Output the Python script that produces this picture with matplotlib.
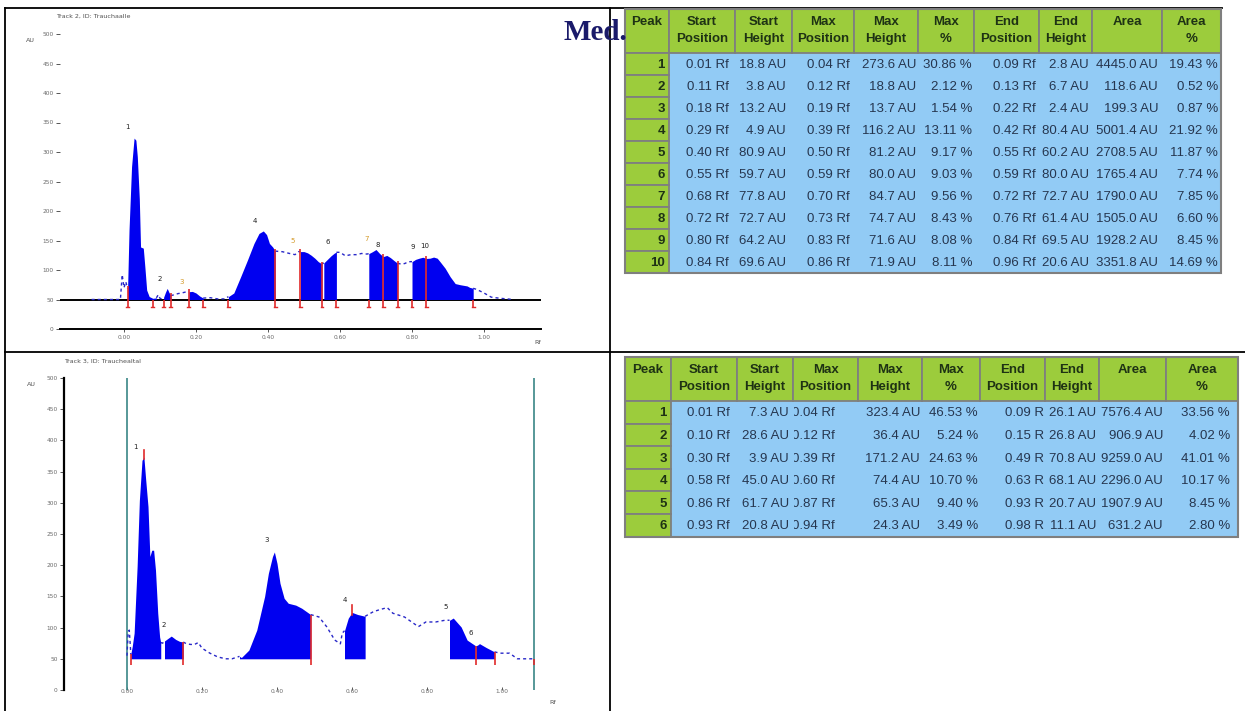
import matplotlib.pyplot as plt
import numpy as np
from matplotlib.patches import Rectangle

W, H = 1245, 711

# ---- top densitogram (track 2), Rf vs AU (baseline at 50 AU)
top_rf = [-0.09, -0.01, -0.005, 0.0, 0.005, 0.01, 0.014, 0.021, 0.028, 0.033, 0.037, 0.0425,
          0.046, 0.0536, 0.058, 0.063, 0.07, 0.08, 0.09, 0.095, 0.10, 0.105, 0.11, 0.115, 0.12,
          0.125, 0.13, 0.14, 0.15, 0.16, 0.17, 0.18, 0.19, 0.20, 0.21, 0.22, 0.24, 0.26, 0.28,
          0.29, 0.305, 0.324, 0.343, 0.361, 0.375, 0.387, 0.396, 0.404, 0.413, 0.42, 0.44, 0.46,
          0.475, 0.485, 0.49, 0.50, 0.51, 0.52, 0.53, 0.54, 0.55, 0.555, 0.565, 0.575, 0.585,
          0.59, 0.60, 0.615, 0.63, 0.645, 0.66, 0.675, 0.68, 0.69, 0.70, 0.71, 0.72, 0.73, 0.74,
          0.75, 0.76, 0.77, 0.78, 0.79, 0.80, 0.81, 0.82, 0.83, 0.84, 0.85, 0.86, 0.87, 0.878,
          0.892, 0.906, 0.92, 0.934, 0.953, 0.96, 0.97, 0.98, 1.0, 1.02, 1.045, 1.065, 1.08]
top_au = [50, 50, 92, 70, 80, 68.8, 168, 275, 323.6, 320, 292, 221,
          139, 137, 105, 66, 55, 52, 52.8, 58, 52, 51, 53.8, 62, 68.8,
          62, 56.7, 58, 60, 61, 62.5, 63.2, 63.7, 61, 56, 52.4, 53, 51, 51,
          54.9, 61, 88.6, 117, 145, 162, 166.2, 160, 145, 139, 132, 131, 128,
          126, 131, 131.2, 131.2, 129, 125, 120, 114, 110.2, 112, 118, 124, 129,
          130, 130, 124, 126, 126, 128, 127, 127.8, 131, 134.7, 128, 122.7, 124.7, 121,
          116, 111.4, 110, 111, 114, 114.2, 118, 120, 121.6, 119.6, 120, 121.9, 120, 114,
          103, 88.6, 77, 75, 73, 70.6, 69, 67, 61, 54, 52, 51, 50]
top_fills = [(0.01, 0.09), (0.11, 0.13), (0.18, 0.22), (0.29, 0.42), (0.49, 0.55), (0.555, 0.59),
             (0.68, 0.72), (0.72, 0.76), (0.80, 0.84), (0.84, 0.97)]
top_red_tall = [0.01, 0.13, 0.18, 0.42, 0.49, 0.55, 0.72, 0.76, 0.84]
top_red_low = [0.08, 0.11, 0.22, 0.29, 0.59, 0.68, 0.80, 0.97]
top_labels = ['1', '2', '3', '4', '5', '6', '7', '8', '9', '10']
top_label_rf = [0.011, 0.10, 0.161, 0.364, 0.469, 0.567, 0.675, 0.705, 0.803, 0.836]
top_label_au = [342, 85, 80, 183, 149, 147, 153, 142, 139, 141]

# ---- bottom densitogram (track 3)
bot_rf = [0.0, 0.003, 0.006, 0.009, 0.01, 0.014, 0.019, 0.027, 0.033, 0.04, 0.045, 0.05, 0.056,
          0.061, 0.066, 0.071, 0.076, 0.082, 0.087, 0.09, 0.095, 0.10, 0.11, 0.118, 0.13, 0.14,
          0.15, 0.159, 0.17, 0.18, 0.19, 0.20, 0.221, 0.242, 0.263, 0.28, 0.30, 0.305, 0.325,
          0.346, 0.367, 0.377, 0.388, 0.393, 0.40, 0.408, 0.419, 0.43, 0.45, 0.466, 0.49, 0.512,
          0.533, 0.554, 0.569, 0.574, 0.58, 0.59, 0.60, 0.615, 0.635, 0.657, 0.675, 0.694, 0.709,
          0.74, 0.777, 0.797, 0.823, 0.85, 0.86, 0.87, 0.891, 0.907, 0.93, 0.935, 0.94, 0.958,
          0.98, 0.995, 1.02, 1.041, 1.085]
bot_au = [55, 92, 96, 70, 57.3, 70, 91, 198, 304, 368, 373.4, 336, 294,
          214, 224, 224, 192, 123, 85, 76.1, 75, 78.6, 83, 86.4, 81, 78,
          76.8, 74, 73, 73, 76, 67, 59, 53, 50, 50, 53.9, 52, 64,
          96, 150, 187, 214, 221.2, 203, 171, 147, 139, 136, 131, 120.8, 117,
          101, 80, 74, 91, 95, 115, 124.4, 121, 118.1, 125.5, 129, 132, 123,
          117, 101.5, 109, 109, 112, 111.7, 115.3, 101, 80, 70.7, 72, 74.3, 68,
          61.1, 59, 59, 50, 50]
bot_fills = [(0.01, 0.09), (0.10, 0.15), (0.30, 0.49), (0.58, 0.635), (0.86, 0.93), (0.93, 0.98)]
bot_red = [0.01, 0.15, 0.49, 0.93, 0.98, 1.085]
bot_max_marks = [0.045, 0.60]
bot_labels = ['1', '2', '3', '4', '5', '6']
bot_label_rf = [0.022, 0.097, 0.372, 0.581, 0.849, 0.917]
bot_label_au = [390, 104, 240, 144, 133, 92]

yticks = [0, 50, 100, 150, 200, 250, 300, 350, 400, 450, 500]
xticks = [0.0, 0.2, 0.4, 0.6, 0.8, 1.0]
xtick_labels = ['0.00', '0.20', '0.40', '0.60', '0.80', '1.00']

# ---- tables
headers = ['Peak', 'Start\nPosition', 'Start\nHeight', 'Max\nPosition', 'Max\nHeight', 'Max\n%',
           'End\nPosition', 'End\nHeight', 'Area', 'Area\n%']

t1_start_pos = [0.01, 0.11, 0.18, 0.29, 0.40, 0.55, 0.68, 0.72, 0.80, 0.84]
t1_start_h = [18.8, 3.8, 13.2, 4.9, 80.9, 59.7, 77.8, 72.7, 64.2, 69.6]
t1_max_pos = [0.04, 0.12, 0.19, 0.39, 0.50, 0.59, 0.70, 0.73, 0.83, 0.86]
t1_max_h = [273.6, 18.8, 13.7, 116.2, 81.2, 80.0, 84.7, 74.7, 71.6, 71.9]
t1_max_pct = [30.86, 2.12, 1.54, 13.11, 9.17, 9.03, 9.56, 8.43, 8.08, 8.11]
t1_end_pos = [0.09, 0.13, 0.22, 0.42, 0.55, 0.59, 0.72, 0.76, 0.84, 0.96]
t1_end_h = [2.8, 6.7, 2.4, 80.4, 60.2, 80.0, 72.7, 61.4, 69.5, 20.6]
t1_area = [4445.0, 118.6, 199.3, 5001.4, 2708.5, 1765.4, 1790.0, 1505.0, 1928.2, 3351.8]
t1_area_pct = [19.43, 0.52, 0.87, 21.92, 11.87, 7.74, 7.85, 6.60, 8.45, 14.69]

t2_start_pos = [0.01, 0.10, 0.30, 0.58, 0.86, 0.93]
t2_start_h = [7.3, 28.6, 3.9, 45.0, 61.7, 20.8]
t2_max_pos = [0.04, 0.12, 0.39, 0.60, 0.87, 0.94]
t2_max_h = [323.4, 36.4, 171.2, 74.4, 65.3, 24.3]
t2_max_pct = [46.53, 5.24, 24.63, 10.70, 9.40, 3.49]
t2_end_pos = [0.09, 0.15, 0.49, 0.63, 0.93, 0.98]
t2_end_h = [26.1, 26.8, 70.8, 68.1, 20.7, 11.1]
t2_area = [7576.4, 906.9, 9259.0, 2296.0, 1907.9, 631.2]
t2_area_pct = [33.56, 4.02, 41.01, 10.17, 8.45, 2.80]

BLUE = '#0000f0'
RED = '#e02a2a'
GREEN = '#9ccc3c'
CELL = '#92cbf5'
GRAY = '#7f7f7f'


def px_axes(fig, left, top, right, bottom):
    return fig.add_axes([left / W, 1 - bottom / H, (right - left) / W, (bottom - top) / H])


def draw_trace(ax, rf, au, fills):
    rf = np.array(rf, float)
    au = np.array(au, float)
    dotted = au.copy()
    for s, e in fills:
        dotted[(rf > s + 1e-6) & (rf < e - 1e-6)] = np.nan
    ax.plot(rf, dotted, color='#2828c8', lw=1.0, dashes=(2.2, 2.2), zorder=3)
    for s, e in fills:
        m = (rf >= s - 1e-9) & (rf <= e + 1e-9)
        ax.fill_between(rf[m], 50, au[m], color=BLUE, lw=0, zorder=4)
    return rf, au


def red_mark(ax, x, y_top, y_bot=38):
    ax.plot([x, x], [y_bot, y_top], color=RED, lw=1.2, zorder=5, solid_capstyle='butt')


def style_chart(ax):
    ax.set_facecolor('none')
    ax.set_ylim(0, 500)
    ax.set_yticks(yticks)
    ax.set_yticklabels([str(v) for v in yticks])
    ax.set_xticks(xticks)
    ax.set_xticklabels(xtick_labels)
    for s in ['top', 'right']:
        ax.spines[s].set_visible(False)
    ax.tick_params(axis='both', labelsize=4.2, labelcolor='#6a6a6a', colors='#555555',
                   width=0.7)
    ax.tick_params(axis='y', length=3, pad=1.5)


def draw_table(ax, x_edges, y_top, head_h, row_h, cols, right_pos):
    n = len(cols[0])
    x0, x1 = x_edges[0], x_edges[-1]
    y_bot = y_top + head_h + n * row_h
    ax.add_patch(Rectangle((x_edges[1], y_top + head_h), x1 - x_edges[1], n * row_h,
                           facecolor=CELL, edgecolor='none', zorder=1))
    for i in range(len(headers)):
        ax.add_patch(Rectangle((x_edges[i], y_top), x_edges[i + 1] - x_edges[i], head_h,
                               facecolor=GREEN, edgecolor=GRAY, lw=1.3, zorder=2))
        for k, line in enumerate(headers[i].split('\n')):
            ax.text((x_edges[i] + x_edges[i + 1]) / 2, y_top + 13 + 17 * k, line,
                    ha='center', va='center', fontsize=9.5, fontweight='bold',
                    color='#1e3214', family='Liberation Sans', zorder=3)
    for r in range(n):
        yc = y_top + head_h + r * row_h
        ax.add_patch(Rectangle((x0, yc), x_edges[1] - x0, row_h, facecolor=GREEN,
                               edgecolor=GRAY, lw=1.3, zorder=2))
        ax.text(right_pos[0], yc + row_h / 2 + 1, str(r + 1), ha='right', va='center',
                fontsize=9.5, fontweight='bold', color='#1e3214', family='Liberation Sans',
                zorder=3)
        for c in range(1, len(headers)):
            t = ax.text(right_pos[c], yc + row_h / 2 + 1, cols[c][r], ha='right', va='center',
                        fontsize=9.5, color='#26364f', family='Liberation Sans', zorder=3)
            clip = Rectangle((x_edges[c] + 1, yc), x_edges[c + 1] - x_edges[c] - 2, row_h,
                             transform=ax.transData)
            t.set_clip_on(True)
            t.set_clip_path(clip)
    ax.add_patch(Rectangle((x0, y_top), x1 - x0, y_bot - y_top, facecolor='none',
                           edgecolor=GRAY, lw=1.5, zorder=4))


def columns(sp, sh, mp, mh, mpct, ep, eh, ar, arp):
    return [[str(i + 1) for i in range(len(sp))],
            [f'{v:.2f} Rf' for v in sp], [f'{v:.1f} AU' for v in sh],
            [f'{v:.2f} Rf' for v in mp], [f'{v:.1f} AU' for v in mh],
            [f'{v:.2f} %' for v in mpct], [f'{v:.2f} Rf' for v in ep],
            [f'{v:.1f} AU' for v in eh], [f'{v:.1f} AU' for v in ar],
            [f'{v:.2f} %' for v in arp]]


fig = plt.figure(figsize=(W / 100, H / 100), dpi=100)
ax0 = fig.add_axes([0, 0, 1, 1])
ax0.set_xlim(0, W)
ax0.set_ylim(H, 0)
ax0.axis('off')

# document grid
for xs, ys in [([5, 1222], [8, 8]), ([5, 5], [8, 711]), ([610, 610], [8, 711]),
               ([5, 1245], [352, 352])]:
    ax0.plot(xs, ys, color='black', lw=1.3)

ax0.text(563, 40, 'Med.', fontsize=21, fontweight='bold', family='Liberation Serif',
         color='#1a1a6a', ha='left', va='baseline', zorder=10)

# tables
draw_table(ax0, [625, 669, 735, 792, 854, 918, 974, 1039, 1092, 1162, 1221], 9, 44, 22,
           columns(t1_start_pos, t1_start_h, t1_max_pos, t1_max_h, t1_max_pct,
                   t1_end_pos, t1_end_h, t1_area, t1_area_pct),
           [665, 729, 786, 850, 916, 972, 1036, 1089, 1158, 1218])
draw_table(ax0, [625, 671, 737, 793, 858, 922, 980, 1045, 1099, 1166, 1238], 357, 44, 22.6,
           columns(t2_start_pos, t2_start_h, t2_max_pos, t2_max_h, t2_max_pct,
                   t2_end_pos, t2_end_h, t2_area, t2_area_pct),
           [667, 730, 789, 835, 920, 978, 1048, 1096, 1163, 1230])

# chart captions
small = dict(fontsize=4.6, color='#505050')
ax0.text(56, 16, 'Track 2, ID: Trauchaalle', ha='left', va='center', **small)
ax0.text(30, 40, 'AU', ha='center', va='center', **small)
ax0.text(538, 343, 'Rf', ha='center', va='center', **small)
ax0.text(64, 361, 'Track 3, ID: Trauchealtal', ha='left', va='center', **small)
ax0.text(31, 384, 'AU', ha='center', va='center', **small)
ax0.text(553, 702, 'Rf', ha='center', va='center', **small)

# ---- top chart
ax1 = px_axes(fig, 60, 34, 541, 329)
style_chart(ax1)
ax1.set_xlim((60 - 124) / 360, (541 - 124) / 360)
ax1.spines['left'].set_visible(False)
ax1.spines['bottom'].set_linewidth(1.4)
ax1.tick_params(axis='x', length=2, pad=2)
ax1.axhline(50, color='black', lw=1.4, zorder=2)
rf1, au1 = draw_trace(ax1, top_rf, top_au, top_fills)
for b in top_red_tall:
    red_mark(ax1, b, np.interp(b, rf1, au1) + 4)
for b in top_red_low:
    red_mark(ax1, b, 50)
for b in top_red_tall + top_red_low:
    ax1.plot([b - 0.004, b + 0.004], [38, 38], color=RED, lw=1.0, zorder=5)
for lab, x, y in zip(top_labels, top_label_rf, top_label_au):
    c = '#d49a28' if lab in ('3', '5', '7') else '#202020'
    ax1.text(x, y, lab, ha='center', va='center', fontsize=5, color=c)

# ---- bottom chart
ax2 = px_axes(fig, 64, 378, 560, 690)
style_chart(ax2)
ax2.set_xlim((64 - 127) / 375, (560 - 127) / 375)
ax2.spines['bottom'].set_visible(False)
ax2.spines['left'].set_linewidth(1.6)
ax2.tick_params(axis='x', length=2, direction='in', pad=-1)
for v in (0.0, 1.085):
    ax2.axvline(v, color='#3a8686', lw=1.2, zorder=2)
rf2, au2 = draw_trace(ax2, bot_rf, bot_au, bot_fills)
for b in bot_red:
    red_mark(ax2, b, np.interp(b, rf2, au2), y_bot=40)
for b in bot_max_marks:
    y = np.interp(b, rf2, au2)
    ax2.plot([b, b], [y - 4, y + 12], color=RED, lw=1.2, zorder=5)
for lab, x, y in zip(bot_labels, bot_label_rf, bot_label_au):
    ax2.text(x, y, lab, ha='center', va='center', fontsize=5, color='#202020')

fig.savefig('out.png', dpi=100)
